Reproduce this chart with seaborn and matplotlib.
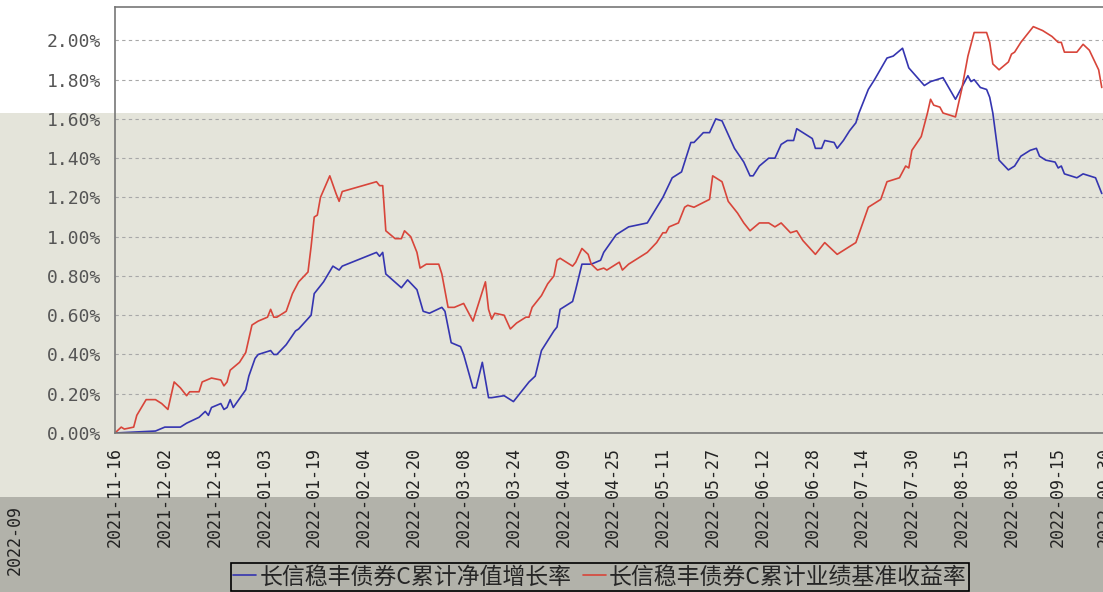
import pandas as pd
import matplotlib
matplotlib.use("Agg")
import matplotlib.pyplot as plt
from matplotlib.patches import Rectangle
import seaborn as sns

# series names (legend)
series_names = ["长信稳丰债券C累计净值增长率", "长信稳丰债券C累计业绩基准收益率"]

# cumulative NAV growth (%)
nav_dates = [
    "2021-11-16", "2021-11-29", "2021-12-02", "2021-12-07", "2021-12-09", "2021-12-13", "2021-12-15", "2021-12-16", "2021-12-17", "2021-12-20",
    "2021-12-21", "2021-12-22", "2021-12-23", "2021-12-24", "2021-12-28", "2021-12-29", "2021-12-31", "2022-01-01", "2022-01-05", "2022-01-06",
    "2022-01-07", "2022-01-10", "2022-01-13", "2022-01-14", "2022-01-18", "2022-01-19", "2022-01-22", "2022-01-25", "2022-01-27", "2022-01-28",
    "2022-02-08", "2022-02-09", "2022-02-10", "2022-02-11", "2022-02-16", "2022-02-18", "2022-02-21", "2022-02-23", "2022-02-25", "2022-03-01",
    "2022-03-02", "2022-03-04", "2022-03-07", "2022-03-08", "2022-03-11", "2022-03-12", "2022-03-14", "2022-03-16", "2022-03-17", "2022-03-21",
    "2022-03-24", "2022-03-28", "2022-03-29", "2022-03-31", "2022-04-02", "2022-04-06", "2022-04-07", "2022-04-08", "2022-04-09", "2022-04-12",
    "2022-04-13", "2022-04-15", "2022-04-18", "2022-04-21", "2022-04-22", "2022-04-26", "2022-04-30", "2022-05-06", "2022-05-11", "2022-05-14",
    "2022-05-17", "2022-05-20", "2022-05-21", "2022-05-24", "2022-05-26", "2022-05-28", "2022-05-30", "2022-06-03", "2022-06-06", "2022-06-08",
    "2022-06-09", "2022-06-11", "2022-06-14", "2022-06-16", "2022-06-18", "2022-06-20", "2022-06-22", "2022-06-23", "2022-06-28", "2022-06-29",
    "2022-07-01", "2022-07-02", "2022-07-05", "2022-07-06", "2022-07-08", "2022-07-10", "2022-07-12", "2022-07-13", "2022-07-16", "2022-07-18",
    "2022-07-22", "2022-07-24", "2022-07-27", "2022-07-29", "2022-08-03", "2022-08-05", "2022-08-09", "2022-08-13", "2022-08-17", "2022-08-18",
    "2022-08-19", "2022-08-21", "2022-08-23", "2022-08-24", "2022-08-25", "2022-08-27", "2022-08-30", "2022-09-01", "2022-09-03", "2022-09-06",
    "2022-09-08", "2022-09-09", "2022-09-11", "2022-09-14", "2022-09-15", "2022-09-16", "2022-09-17", "2022-09-21", "2022-09-23", "2022-09-27",
    "2022-09-29",
]
nav_vals = [
    0.00, 0.01, 0.03, 0.03, 0.05, 0.08, 0.11, 0.09, 0.13, 0.15,
    0.12, 0.13, 0.17, 0.13, 0.22, 0.29, 0.38, 0.40, 0.42, 0.40,
    0.40, 0.45, 0.52, 0.53, 0.60, 0.71, 0.77, 0.85, 0.83, 0.85,
    0.92, 0.90, 0.92, 0.81, 0.74, 0.78, 0.73, 0.62, 0.61, 0.64,
    0.62, 0.46, 0.44, 0.40, 0.23, 0.23, 0.36, 0.18, 0.18, 0.19,
    0.16, 0.24, 0.26, 0.29, 0.42, 0.52, 0.54, 0.63, 0.64, 0.67,
    0.73, 0.86, 0.86, 0.88, 0.92, 1.01, 1.05, 1.07, 1.20, 1.30,
    1.33, 1.48, 1.48, 1.53, 1.53, 1.60, 1.59, 1.45, 1.38, 1.31,
    1.31, 1.36, 1.40, 1.40, 1.47, 1.49, 1.49, 1.55, 1.50, 1.45,
    1.45, 1.49, 1.48, 1.45, 1.49, 1.54, 1.58, 1.63, 1.75, 1.80,
    1.91, 1.92, 1.96, 1.86, 1.77, 1.79, 1.81, 1.70, 1.82, 1.79,
    1.80, 1.76, 1.75, 1.71, 1.63, 1.39, 1.34, 1.36, 1.41, 1.44,
    1.45, 1.41, 1.39, 1.38, 1.35, 1.36, 1.32, 1.30, 1.32, 1.30,
    1.22,
]

# cumulative benchmark return (%)
bench_dates = [
    "2021-11-16", "2021-11-18", "2021-11-19", "2021-11-22", "2021-11-23", "2021-11-26", "2021-11-29", "2021-12-01", "2021-12-03", "2021-12-05",
    "2021-12-07", "2021-12-09", "2021-12-10", "2021-12-13", "2021-12-14", "2021-12-17", "2021-12-20", "2021-12-21", "2021-12-22", "2021-12-23",
    "2021-12-26", "2021-12-28", "2021-12-30", "2022-01-01", "2022-01-04", "2022-01-05", "2022-01-06", "2022-01-07", "2022-01-10", "2022-01-12",
    "2022-01-14", "2022-01-17", "2022-01-18", "2022-01-19", "2022-01-20", "2022-01-21", "2022-01-24", "2022-01-26", "2022-01-27", "2022-01-28",
    "2022-02-08", "2022-02-09", "2022-02-10", "2022-02-11", "2022-02-14", "2022-02-16", "2022-02-17", "2022-02-19", "2022-02-21", "2022-02-22",
    "2022-02-24", "2022-02-28", "2022-03-01", "2022-03-03", "2022-03-05", "2022-03-08", "2022-03-11", "2022-03-15", "2022-03-16", "2022-03-17",
    "2022-03-18", "2022-03-21", "2022-03-23", "2022-03-25", "2022-03-28", "2022-03-29", "2022-03-30", "2022-04-02", "2022-04-04", "2022-04-06",
    "2022-04-07", "2022-04-08", "2022-04-12", "2022-04-13", "2022-04-15", "2022-04-17", "2022-04-18", "2022-04-20", "2022-04-22", "2022-04-23",
    "2022-04-27", "2022-04-28", "2022-04-30", "2022-05-06", "2022-05-09", "2022-05-11", "2022-05-12", "2022-05-13", "2022-05-16", "2022-05-18",
    "2022-05-19", "2022-05-21", "2022-05-26", "2022-05-27", "2022-05-30", "2022-06-01", "2022-06-04", "2022-06-06", "2022-06-08", "2022-06-11",
    "2022-06-14", "2022-06-16", "2022-06-18", "2022-06-21", "2022-06-23", "2022-06-25", "2022-06-29", "2022-07-02", "2022-07-06", "2022-07-08",
    "2022-07-09", "2022-07-12", "2022-07-16", "2022-07-20", "2022-07-22", "2022-07-26", "2022-07-28", "2022-07-29", "2022-07-30", "2022-08-02",
    "2022-08-04", "2022-08-05", "2022-08-06", "2022-08-08", "2022-08-09", "2022-08-11", "2022-08-13", "2022-08-15", "2022-08-17", "2022-08-19",
    "2022-08-23", "2022-08-24", "2022-08-25", "2022-08-27", "2022-08-30", "2022-08-31", "2022-09-01", "2022-09-03", "2022-09-07", "2022-09-10",
    "2022-09-13", "2022-09-15", "2022-09-16", "2022-09-17", "2022-09-21", "2022-09-23", "2022-09-25", "2022-09-28", "2022-09-29",
]
bench_vals = [
    0.00, 0.03, 0.02, 0.03, 0.09, 0.17, 0.17, 0.15, 0.12, 0.26,
    0.23, 0.19, 0.21, 0.21, 0.26, 0.28, 0.27, 0.24, 0.26, 0.32,
    0.36, 0.41, 0.55, 0.57, 0.59, 0.63, 0.59, 0.59, 0.62, 0.71,
    0.77, 0.82, 0.95, 1.10, 1.11, 1.20, 1.31, 1.22, 1.18, 1.23,
    1.28, 1.26, 1.26, 1.03, 0.99, 0.99, 1.03, 1.00, 0.92, 0.84,
    0.86, 0.86, 0.81, 0.64, 0.64, 0.66, 0.57, 0.77, 0.63, 0.58,
    0.61, 0.60, 0.53, 0.56, 0.59, 0.59, 0.64, 0.70, 0.76, 0.80,
    0.88, 0.89, 0.85, 0.87, 0.94, 0.91, 0.86, 0.83, 0.84, 0.83,
    0.87, 0.83, 0.86, 0.92, 0.97, 1.02, 1.02, 1.05, 1.07, 1.15,
    1.16, 1.15, 1.19, 1.31, 1.28, 1.18, 1.12, 1.07, 1.03, 1.07,
    1.07, 1.05, 1.07, 1.02, 1.03, 0.98, 0.91, 0.97, 0.91, 0.93,
    0.94, 0.97, 1.15, 1.19, 1.28, 1.30, 1.36, 1.35, 1.44, 1.51,
    1.63, 1.70, 1.67, 1.66, 1.63, 1.62, 1.61, 1.75, 1.92, 2.04,
    2.04, 1.99, 1.88, 1.85, 1.89, 1.93, 1.94, 1.99, 2.07, 2.05,
    2.02, 1.99, 1.99, 1.94, 1.94, 1.98, 1.95, 1.85, 1.76,
]

tick_dates = [
    "2021-11-16", "2021-12-02", "2021-12-18", "2022-01-03", "2022-01-19", "2022-02-04", "2022-02-20",
    "2022-03-08", "2022-03-24", "2022-04-09", "2022-04-25", "2022-05-11", "2022-05-27", "2022-06-12",
    "2022-06-28", "2022-07-14", "2022-07-30", "2022-08-15", "2022-08-31", "2022-09-15", "2022-09-30",
]
y_ticks = [0.0, 0.2, 0.4, 0.6, 0.8, 1.0, 1.2, 1.4, 1.6, 1.8, 2.0]

nav = pd.DataFrame({"date": pd.to_datetime(nav_dates), "value": nav_vals})
bench = pd.DataFrame({"date": pd.to_datetime(bench_dates), "value": bench_vals})

sns.set_style("white")
plt.rcParams["font.family"] = ["Noto Sans CJK SC", "DejaVu Sans"]

W, H = 1103, 592
fig = plt.figure(figsize=(W / 100, H / 100), dpi=100)
fig.patch.set_facecolor("#e4e4da")
# background bands of the screenshot, kept behind the axes
fig.patches.append(Rectangle((0, 1 - 113 / H), 1, 113 / H, transform=fig.transFigure,
                             facecolor="white", edgecolor="none", zorder=-5))
fig.patches.append(Rectangle((0, 0), 1, 1 - 497 / H, transform=fig.transFigure,
                             facecolor="#b2b2aa", edgecolor="none", zorder=-5))

ax = fig.add_axes([115 / W, 1 - 433 / H, 993 / W, 426 / H])
ax.set_zorder(2)
ax.set_facecolor("none")

sns.lineplot(data=nav, x="date", y="value", color="#3535b0", lw=1.2, ax=ax, label=series_names[0])
sns.lineplot(data=bench, x="date", y="value", color="#d8453a", lw=1.2, ax=ax, label=series_names[1])

ax.set_xlim(pd.Timestamp("2021-11-16"), pd.Timestamp("2022-10-01"))
ax.set_ylim(0, 2.17)
ax.set_xlabel("")
ax.set_ylabel("")

ax.set_yticks(y_ticks)
ax.set_yticklabels([f"{v:.2f}%" for v in y_ticks], family="DejaVu Sans Mono", fontsize=13, color="#555555")
ax.set_xticks(pd.to_datetime(tick_dates))
ax.set_xticklabels(tick_dates, rotation=90, family="DejaVu Sans Mono", fontsize=12, color="#222222")
ax.tick_params(axis="both", direction="out", length=5, width=1, color="#777777", pad=5)

ax.yaxis.grid(True, linestyle=(0, (3, 3)), color="#a8a8a8", lw=0.8)
ax.xaxis.grid(False)
for side in ["left", "bottom", "top", "right"]:
    ax.spines[side].set_color("#777777")
    ax.spines[side].set_linewidth(1.2)

handles, labels = ax.get_legend_handles_labels()
ax.get_legend().remove()
leg = fig.legend(handles, labels, loc="center", bbox_to_anchor=(600 / W, 1 - 577 / H), ncol=2,
                 frameon=True, fancybox=False, edgecolor="black", facecolor="#b2b2aa", framealpha=1,
                 fontsize=16.5, handlelength=1.0, handletextpad=0.15, columnspacing=0.5, borderpad=0.1)
leg.get_frame().set_linewidth(1.2)
leg.set_zorder(3)

fig.text(15 / W, 1 - 540 / H, "2022-09", rotation=90, ha="center", va="center",
         family="DejaVu Sans Mono", fontsize=12, color="#222222")

fig.savefig("out.png", dpi=100, facecolor=fig.get_facecolor())
